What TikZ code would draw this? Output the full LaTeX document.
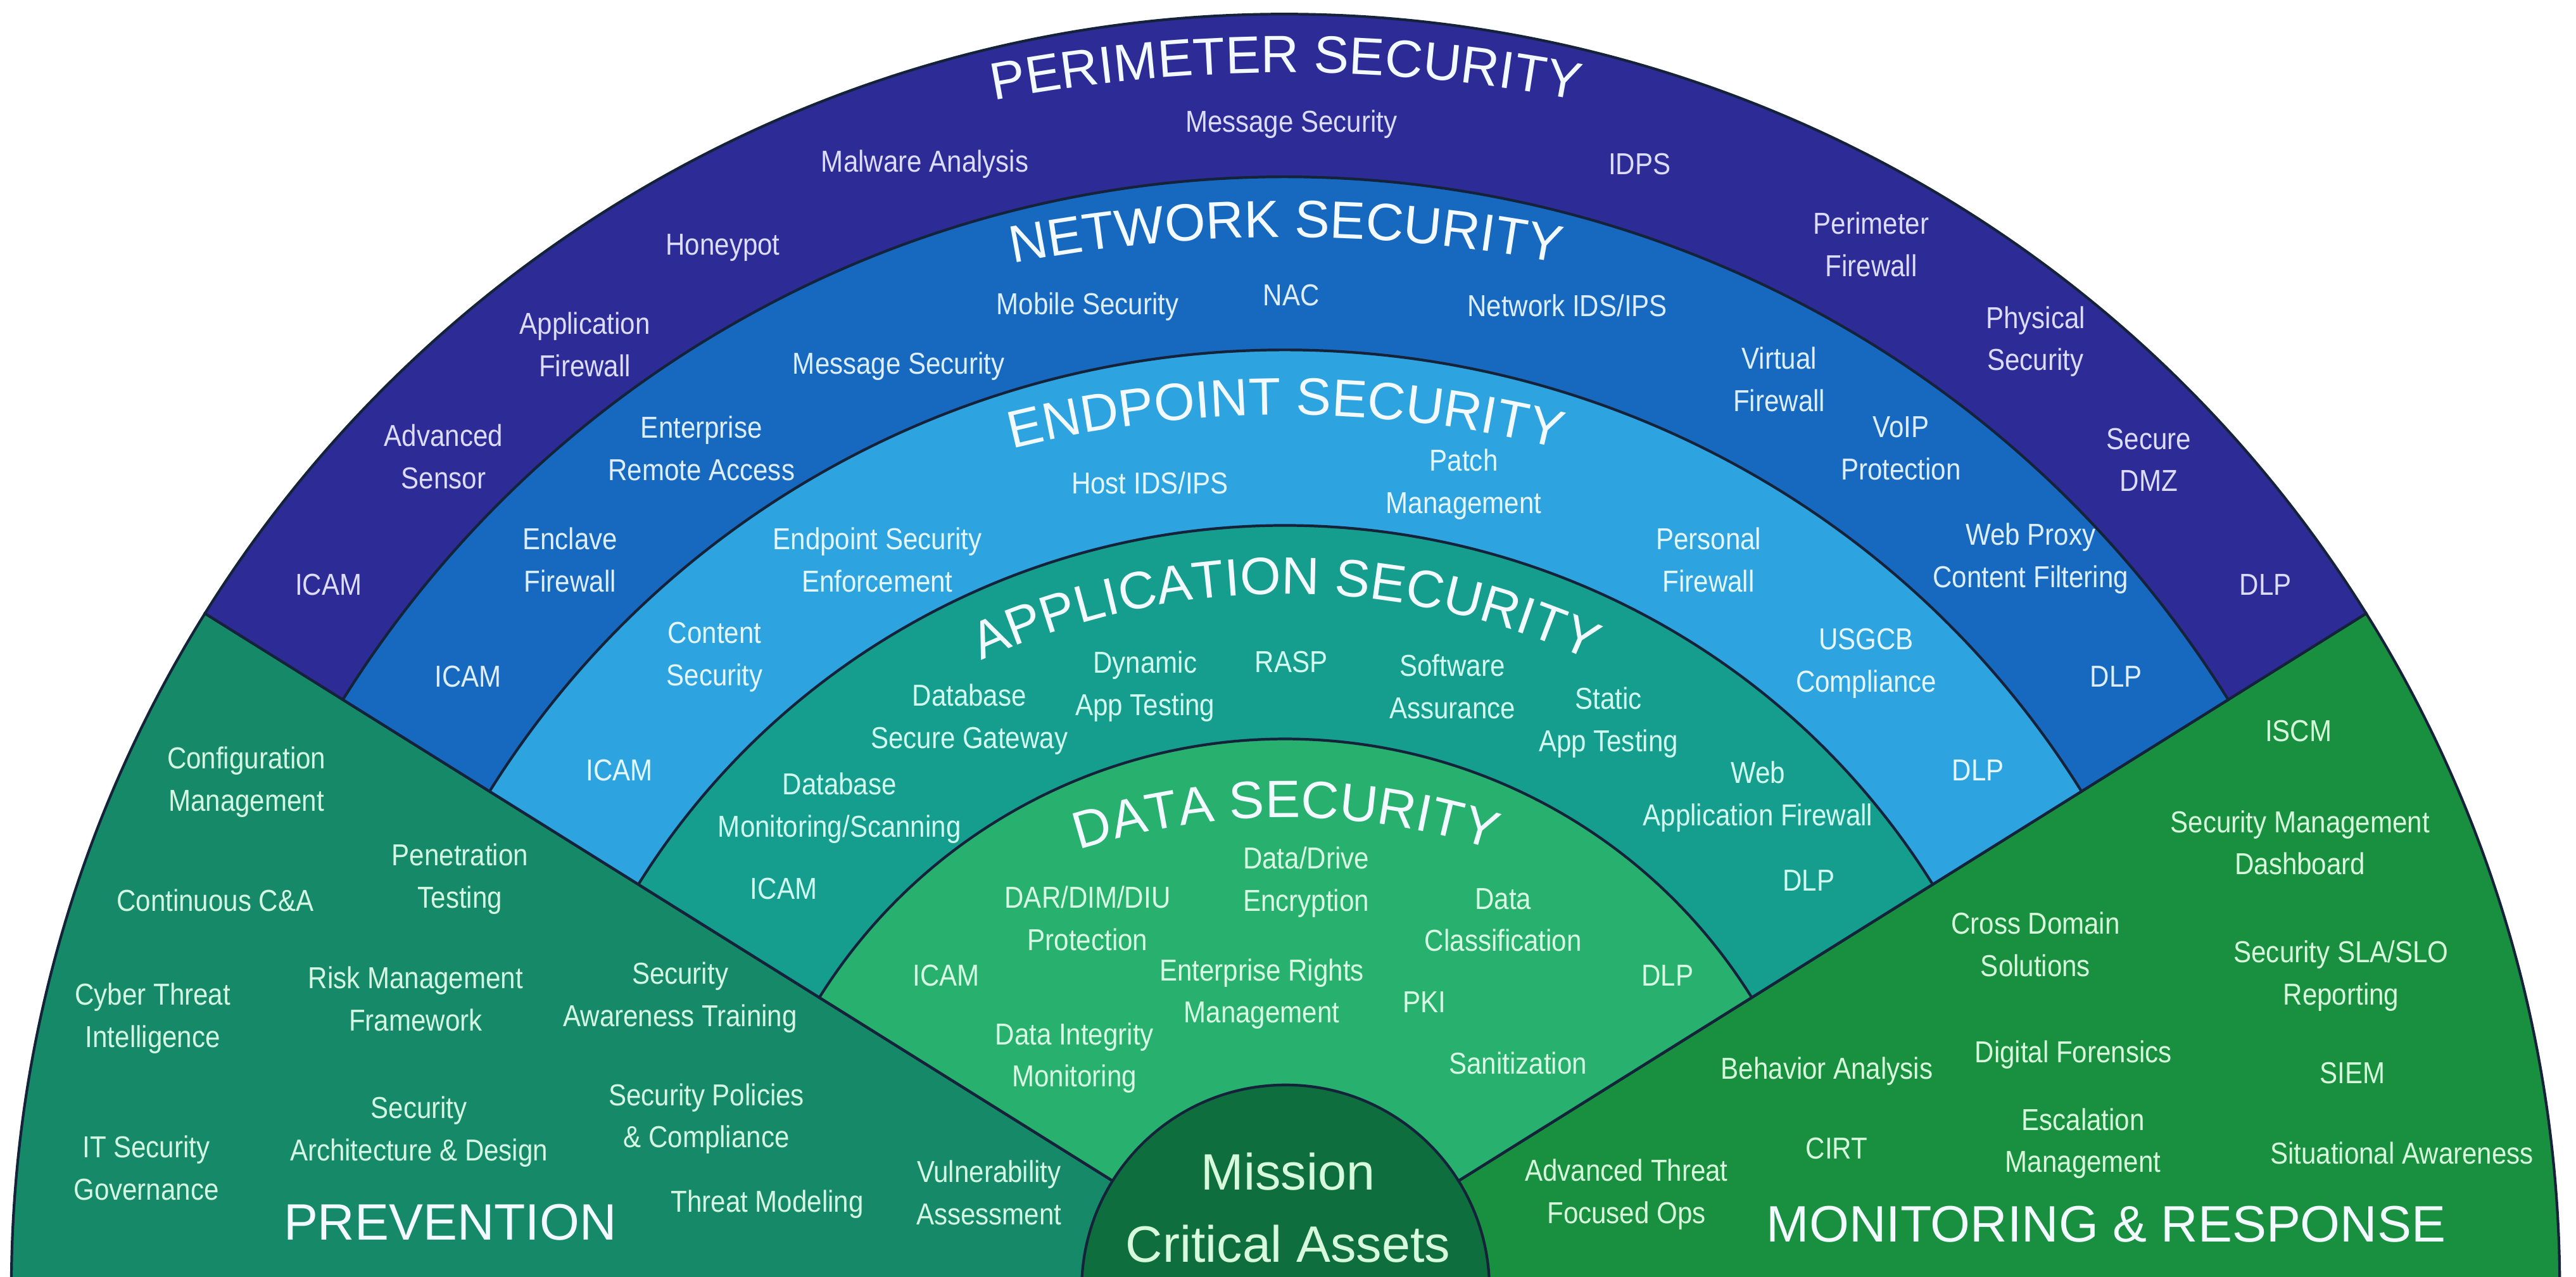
\documentclass[tikz,border=0pt]{standalone}
\usepackage{fontspec}
\setmainfont{Liberation Sans}
\newfontfamily\itemfamily[FakeStretch=0.88]{Liberation Sans}
\usepackage{tikz}
\usetikzlibrary{decorations.text}

\definecolor{edgecol}{HTML}{14233A}
\definecolor{perimcol}{HTML}{2D2B96}
\definecolor{netcol}{HTML}{1769BF}
\definecolor{endcol}{HTML}{2DA4E0}
\definecolor{appcol}{HTML}{159E8E}
\definecolor{datacol}{HTML}{27B06E}
\definecolor{misscol}{HTML}{0F6E3E}
\definecolor{prevcol}{HTML}{168A68}
\definecolor{moncol}{HTML}{18903F}
\definecolor{titlecol}{HTML}{F2FAFF}
\definecolor{ptext}{HTML}{DCDCFF}
\definecolor{ntext}{HTML}{DCEEFF}
\definecolor{etext}{HTML}{E4F6FF}
\definecolor{atext}{HTML}{D2FBF0}
\definecolor{dtext}{HTML}{D8FBE4}
\definecolor{gtext}{HTML}{D4F7E4}
\definecolor{mtext}{HTML}{D8FADC}

\newcommand{\itemfont}{\itemfamily\fontsize{6.8}{9.5}\selectfont}
\newcommand{\titlefont}{\fontsize{11.8}{14}\selectfont}
\newcommand{\bigfont}{\fontsize{11.5}{16.2}\selectfont}

\begin{document}
\begin{tikzpicture}[x=0.012972cm, y=0.012972cm,
    edge/.style={draw=edgecol, line width=0.6pt},
    item/.style={font=\itemfont, align=center, inner sep=0pt},
    pitem/.style={item, text=ptext},
    nitem/.style={item, text=ntext},
    eitem/.style={item, text=etext},
    aitem/.style={item, text=atext},
    ditem/.style={item, text=dtext},
    gitem/.style={item, text=gtext},
    mitem/.style={item, text=mtext},
    bigtext/.style={font=\bigfont, align=center, inner sep=0pt, text=titlecol}]
        \useasboundingbox (0,0) rectangle (1568,776.8);
        \clip (0,0) rectangle (1568,776.8);
        \coordinate (ctr) at (782.5,-7.5);

        % draw green sectors
        \filldraw[fill=prevcol, edge] (ctr) -- ([shift={(148:775.6)}]ctr) arc[start angle=148, end angle=185, radius=775.6] -- cycle;
        \filldraw[fill=moncol, edge] (ctr) -- ([shift={(-5:775.6)}]ctr) arc[start angle=-5, end angle=32, radius=775.6] -- cycle;

        % draw rings
        \foreach \r/\col in {775.6/perimcol, 676.6/netcol, 571.3/endcol, 464.5/appcol, 334.6/datacol}
            \filldraw[fill=\col, edge] (ctr) -- ([shift={(32:\r)}]ctr) arc[start angle=32, end angle=148, radius=\r] -- cycle;

        % draw core
        \filldraw[fill=misscol, edge] (ctr) circle[radius=124.1];

        % draw ring titles
        \path[decorate, decoration={text along path, text align=center, text color=titlecol,
            text={|\titlefont|PERIMETER SECURITY}}] ([shift={(150:944.5)}]782.5,-212.1) arc[start angle=150, end angle=30, radius=944.5];
        \path[decorate, decoration={text along path, text align=center, text color=titlecol,
            text={|\titlefont|NETWORK SECURITY}}] ([shift={(150:875)}]782.5,-242.7) arc[start angle=150, end angle=30, radius=875];
        \path[decorate, decoration={text along path, text align=center, text color=titlecol,
            text={|\titlefont|ENDPOINT SECURITY}}] ([shift={(150:686.2)}]782.5,-162) arc[start angle=150, end angle=30, radius=686.2];
        \path[decorate, decoration={text along path, text align=center, text color=titlecol,
            text={|\titlefont|APPLICATION SECURITY}}] ([shift={(150:443.3)}]782.5,-28) arc[start angle=150, end angle=30, radius=443.3];
        \path[decorate, decoration={text along path, text align=center, text color=titlecol,
            text={|\titlefont|DATA SECURITY}}] ([shift={(150:412.5)}]782.5,-133.2) arc[start angle=150, end angle=30, radius=412.5];

        % draw perimeter items
        \node[pitem] (p-malware) at (563,677) {Malware Analysis};
        \node[pitem] (p-message) at (786,701) {Message Security};
        \node[pitem] (p-idps) at (998,677) {IDPS};
        \node[pitem] (p-honeypot) at (440,626) {Honeypot};
        \node[pitem] (p-perimfw) at (1139,628) {Perimeter\\Firewall};
        \node[pitem] (p-appfw) at (356,567) {Application\\Firewall};
        \node[pitem] (p-physical) at (1239,569) {Physical\\Security};
        \node[pitem] (p-sensor) at (270,499) {Advanced\\Sensor};
        \node[pitem] (p-dmz) at (1308,497) {Secure\\DMZ};
        \node[pitem] (p-icam) at (200,421) {ICAM};
        \node[pitem] (p-dlp) at (1379,421) {DLP};

        % draw network items
        \node[nitem] (n-mobile) at (662,590) {Mobile Security};
        \node[nitem] (n-nac) at (786,597) {NAC};
        \node[nitem] (n-ids) at (954,591) {Network IDS/IPS};
        \node[nitem] (n-message) at (547,554) {Message Security};
        \node[nitem] (n-virtualfw) at (1083,546) {Virtual\\Firewall};
        \node[nitem] (n-remote) at (427,504) {Enterprise\\Remote Access};
        \node[nitem] (n-voip) at (1157,504) {VoIP\\Protection};
        \node[nitem] (n-enclave) at (347,436) {Enclave\\Firewall};
        \node[nitem] (n-proxy) at (1236,437) {Web Proxy\\Content Filtering};
        \node[nitem] (n-icam) at (285,365) {ICAM};
        \node[nitem] (n-dlp) at (1288,365) {DLP};

        % draw endpoint items
        \node[eitem] (e-hostids) at (700,483) {Host IDS/IPS};
        \node[eitem] (e-patch) at (891,482) {Patch\\Management};
        \node[eitem] (e-enforce) at (534,436) {Endpoint Security\\Enforcement};
        \node[eitem] (e-personal) at (1040,436) {Personal\\Firewall};
        \node[eitem] (e-content) at (435,377) {Content\\Security};
        \node[eitem] (e-usgcb) at (1136,373) {USGCB\\Compliance};
        \node[eitem] (e-icam) at (377,308) {ICAM};
        \node[eitem] (e-dlp) at (1204,308) {DLP};

        % draw application items
        \node[aitem] (a-dynamic) at (697,359) {Dynamic\\App Testing};
        \node[aitem] (a-rasp) at (786,374) {RASP};
        \node[aitem] (a-software) at (884,359) {Software\\Assurance};
        \node[aitem] (a-gateway) at (590,339) {Database\\Secure Gateway};
        \node[aitem] (a-static) at (979,337) {Static\\App Testing};
        \node[aitem] (a-scanning) at (511,285) {Database\\Monitoring/Scanning};
        \node[aitem] (a-waf) at (1070,292) {Web\\Application Firewall};
        \node[aitem] (a-icam) at (477,236) {ICAM};
        \node[aitem] (a-dlp) at (1101,241) {DLP};

        % draw data items
        \node[ditem] (d-encrypt) at (795,240) {Data/Drive\\Encryption};
        \node[ditem] (d-protect) at (662,218) {DAR/DIM/DIU\\Protection};
        \node[ditem] (d-class) at (915,217) {Data\\Classification};
        \node[ditem] (d-icam) at (576,183) {ICAM};
        \node[ditem] (d-rights) at (768,172) {Enterprise Rights\\Management};
        \node[ditem] (d-pki) at (867,167) {PKI};
        \node[ditem] (d-dlp) at (1015,183) {DLP};
        \node[ditem] (d-integrity) at (654,133) {Data Integrity\\Monitoring};
        \node[ditem] (d-sanit) at (924,130) {Sanitization};

        % draw prevention items
        \node[gitem] (v-config) at (150,301) {Configuration\\Management};
        \node[gitem] (v-pentest) at (280,242) {Penetration\\Testing};
        \node[gitem] (v-cca) at (131,229) {Continuous C\&A};
        \node[gitem] (v-cti) at (93,157) {Cyber Threat\\Intelligence};
        \node[gitem] (v-rmf) at (253,169) {Risk Management\\Framework};
        \node[gitem] (v-awareness) at (414,170) {Security\\Awareness Training};
        \node[gitem] (v-arch) at (255,88) {Security\\Architecture \& Design};
        \node[gitem] (v-policy) at (430,96) {Security Policies\\\& Compliance};
        \node[gitem] (v-itgov) at (89,66) {IT Security\\Governance};
        \node[gitem] (v-threat) at (467,44) {Threat Modeling};
        \node[gitem] (v-vuln) at (602,51) {Vulnerability\\Assessment};
        \node[bigtext] (v-title) at (274,33) {PREVENTION};

        % draw monitoring items
        \node[mitem] (m-iscm) at (1399,332) {ISCM};
        \node[mitem] (m-dashboard) at (1400,264) {Security Management\\Dashboard};
        \node[mitem] (m-cds) at (1239,202) {Cross Domain\\Solutions};
        \node[mitem] (m-sla) at (1425,183) {Security SLA/SLO\\Reporting};
        \node[mitem] (m-behavior) at (1112,125) {Behavior Analysis};
        \node[mitem] (m-forensics) at (1262,135) {Digital Forensics};
        \node[mitem] (m-siem) at (1432,124) {SIEM};
        \node[mitem] (m-escalation) at (1268,81) {Escalation\\Management};
        \node[mitem] (m-cirt) at (1118,78) {CIRT};
        \node[mitem] (m-situational) at (1462,75) {Situational Awareness};
        \node[mitem] (m-advthreat) at (990,50) {Advanced Threat\\Focused Ops};
        \node[bigtext] (m-title) at (1282,32) {MONITORING \& RESPONSE};

        % draw core label
        \node[bigtext, text=mtext] (mission) at (784,42) {Mission\\Critical Assets};
\end{tikzpicture}
\end{document}
